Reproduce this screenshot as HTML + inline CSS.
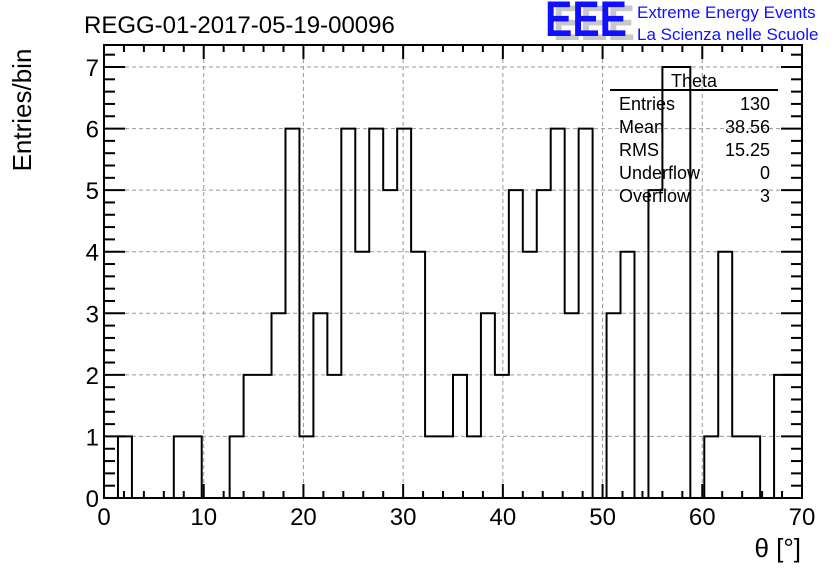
<!DOCTYPE html>
<html><head><meta charset="utf-8"><style>
html,body{margin:0;padding:0;background:#fff}
svg{display:block;font-family:"Liberation Sans",sans-serif}
</style></head><body>
<svg id="chart" width="836" height="572" viewBox="0 0 836 572" xmlns="http://www.w3.org/2000/svg">
<rect width="836" height="572" fill="#fff"/>
<g id="grid"></g>
<path id="hist" fill="none" stroke="#000" stroke-width="2"/>
<rect x="104" y="45" width="698" height="453" fill="none" stroke="#000" stroke-width="2"/>
<g id="ticks" stroke="#000" stroke-width="2"></g>
<g id="labels" font-size="24" fill="#000"></g>
<text x="84" y="33" font-size="24">REGG-01-2017-05-19-00096</text>
<g>
<text x="553" y="40" font-size="50" font-weight="bold" fill="#c8c8c8" textLength="82" lengthAdjust="spacingAndGlyphs">EEE</text>
<text x="545" y="36" font-size="50" font-weight="bold" fill="#1010ff" textLength="82" lengthAdjust="spacingAndGlyphs">EEE</text>
<text x="637" y="18" font-size="17" fill="#1010ff">Extreme Energy Events</text>
<text x="637" y="40" font-size="17" fill="#1010ff">La Scienza nelle Scuole</text>
</g>
<g font-size="18" fill="#000">
<line x1="610" y1="90" x2="778" y2="90" stroke="#000" stroke-width="2"/>
<text x="694" y="87" text-anchor="middle">Theta</text>
<text x="619" y="110">Entries</text><text x="770" y="110" text-anchor="end">130</text>
<text x="619" y="133">Mean</text><text x="770" y="133" text-anchor="end">38.56</text>
<text x="619" y="156">RMS</text><text x="770" y="156" text-anchor="end">15.25</text>
<text x="619" y="179">Underflow</text><text x="770" y="179" text-anchor="end">0</text>
<text x="619" y="202">Overflow</text><text x="770" y="202" text-anchor="end">3</text>
</g>
<text transform="translate(31,110) rotate(-90)" text-anchor="middle" font-size="26">Entries/bin</text>
<text x="801" y="557" text-anchor="end" font-size="26">θ [°]</text>
</svg>
<script>
const counts=[0,1,0,0,0,1,1,0,0,1,2,2,3,6,1,3,2,6,4,6,5,6,4,1,1,2,1,3,2,5,4,5,6,3,6,0,3,4,0,5,7,7,0,1,4,1,1,0,2,2];
const xTicks=[0,10,20,30,40,50,60,70];
const yTicks=[0,1,2,3,4,5,6,7];
const binWidth=1.4;
const X0=104,X1=802,Y0=498,YT=67;
const sx=v=>X0+(v/70)*(X1-X0);
const sy=v=>Y0-(v/7)*(Y0-YT);
const NS="http://www.w3.org/2000/svg";
const grid=document.getElementById('grid'),ticks=document.getElementById('ticks'),labels=document.getElementById('labels');
function mk(tag,attrs,parent){const e=document.createElementNS(NS,tag);for(const k in attrs)e.setAttribute(k,attrs[k]);parent.appendChild(e);return e;}
xTicks.forEach(v=>{
  if(v>0&&v<70){const g=mk('line',{x1:sx(v),x2:sx(v),y1:45,y2:Y0,stroke:'#999','stroke-dasharray':'4,3','stroke-width':1},grid);
  
  }
  const t=mk('text',{x:sx(v),y:525,'text-anchor':'middle'},labels);t.textContent=v;
  
  
});
for(let v=0;v<=70;v+=2){const major=v%10===0,len=major?14:7;
  mk('line',{x1:sx(v),x2:sx(v),y1:Y0,y2:Y0-len},ticks);
  mk('line',{x1:sx(v),x2:sx(v),y1:45,y2:45+len},ticks);}
yTicks.forEach(v=>{
  if(v>0){const g=mk('line',{x1:X0,x2:X1,y1:sy(v),y2:sy(v),stroke:'#999','stroke-dasharray':'4,3','stroke-width':1},grid);
  
  }
  const t=mk('text',{x:99,y:sy(v)+9,'text-anchor':'end'},labels);t.textContent=v;
  
  
});
for(let i=0;i<=36;i++){const v=i*0.2;if(sy(v)<45)break;const major=i%5===0,len=major?21:11;
  mk('line',{x1:X0,x2:X0+len,y1:sy(v),y2:sy(v)},ticks);
  mk('line',{x1:X1,x2:X1-len,y1:sy(v),y2:sy(v)},ticks);}
let d='M'+sx(0)+','+sy(0);
counts.forEach((c,i)=>{const a=sx(i*binWidth),b=sx((i+1)*binWidth);d+=' L'+a+','+sy(c)+' L'+b+','+sy(c);});
d+=' L'+sx(70)+','+sy(0);
document.getElementById('hist').setAttribute('d',d);
</script>
</body></html>
